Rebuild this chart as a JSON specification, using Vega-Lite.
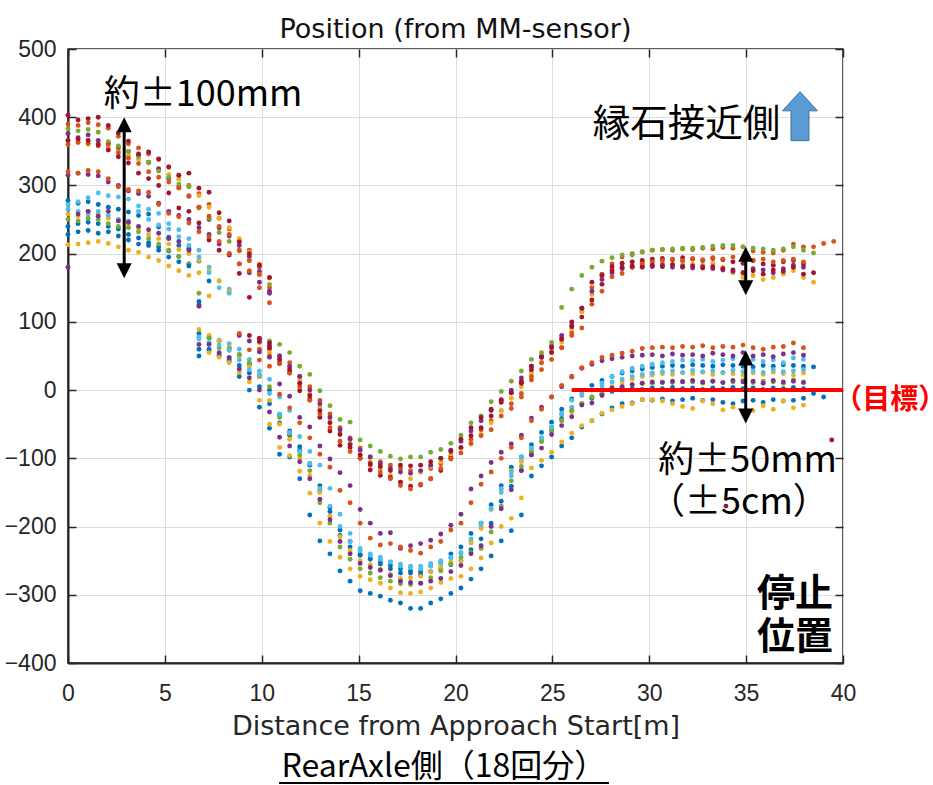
{
  "$schema": "https://vega.github.io/schema/vega-lite/v6.json",
  "width": 775,
  "height": 614,
  "autosize": "none",
  "padding": {"left": 68, "top": 49, "right": 90, "bottom": 122},
  "background": "white",
  "config": {
    "view": {"stroke": "#262626", "strokeWidth": 1.5},
    "axis": {
      "labelFont": "Liberation Sans", "labelFontSize": 23, "labelColor": "#262626",
      "titleFont": "DejaVu Sans", "titleFontSize": 27, "titleFontWeight": "normal", "titleColor": "#262626",
      "domainColor": "#262626", "domainWidth": 2, "tickColor": "#262626", "tickWidth": 1.5, "tickSize": -8,
      "gridColor": "#DEDEDE", "gridWidth": 1, "labelFlush": false
    }
  },
  "resolve": {"axis": {"x": "independent", "y": "independent"}},
  "layer": [
    {
      "data": {"values": [
{"run":1,"x":0,"y":278},{"run":1,"x":0.52,"y":274},{"run":1,"x":1.04,"y":276},{"run":1,"x":1.56,"y":272},{"run":1,"x":2.08,"y":268},{"run":1,"x":2.6,"y":265},{"run":1,"x":3.12,"y":261},{"run":1,"x":3.64,"y":256},{"run":1,"x":4.16,"y":258},{"run":1,"x":4.68,"y":239},{"run":1,"x":5.2,"y":224},{"run":1,"x":5.72,"y":212},{"run":1,"x":6.24,"y":208},{"run":1,"x":6.76,"y":189},{"run":1,"x":7.28,"y":160},
{"run":1,"x":6.76,"y":83},{"run":1,"x":7.28,"y":78},{"run":1,"x":7.8,"y":72},{"run":1,"x":8.32,"y":62},{"run":1,"x":8.84,"y":52},{"run":1,"x":9.36,"y":38},{"run":1,"x":9.88,"y":20},{"run":1,"x":10.4,"y":0},{"run":1,"x":10.92,"y":-36},{"run":1,"x":11.44,"y":-60},{"run":1,"x":11.96,"y":-83},{"run":1,"x":12.48,"y":-110},{"run":1,"x":13,"y":-140},{"run":1,"x":13.52,"y":-172},{"run":1,"x":14.04,"y":-205},{"run":1,"x":14.56,"y":-222},{"run":1,"x":15.08,"y":-241},{"run":1,"x":15.6,"y":-246},{"run":1,"x":16.12,"y":-252},{"run":1,"x":16.64,"y":-257},{"run":1,"x":17.16,"y":-262},{"run":1,"x":17.68,"y":-265},{"run":1,"x":18.2,"y":-266},{"run":1,"x":18.72,"y":-258},{"run":1,"x":19.24,"y":-252},{"run":1,"x":19.76,"y":-240},{"run":1,"x":20.28,"y":-230},{"run":1,"x":20.8,"y":-210},{"run":1,"x":21.32,"y":-195},{"run":1,"x":21.84,"y":-168},{"run":1,"x":22.36,"y":-140},{"run":1,"x":22.88,"y":-113},{"run":1,"x":23.4,"y":-98},{"run":1,"x":23.92,"y":-80},{"run":1,"x":24.44,"y":-62},{"run":1,"x":24.96,"y":-47},{"run":1,"x":25.48,"y":-28},{"run":1,"x":26,"y":-13},{"run":1,"x":26.52,"y":0},{"run":1,"x":27.04,"y":7},{"run":1,"x":27.56,"y":14},{"run":1,"x":28.08,"y":20},{"run":1,"x":28.6,"y":25},{"run":1,"x":29.12,"y":28},{"run":1,"x":29.64,"y":31},{"run":1,"x":30.16,"y":33},{"run":1,"x":30.68,"y":35},{"run":1,"x":31.2,"y":36},{"run":1,"x":31.72,"y":35},{"run":1,"x":32.24,"y":37},{"run":1,"x":32.76,"y":36},{"run":1,"x":33.28,"y":35},{"run":1,"x":33.8,"y":37},{"run":1,"x":34.32,"y":36},{"run":1,"x":34.84,"y":35},{"run":1,"x":35.36,"y":34},{"run":1,"x":35.88,"y":36},{"run":1,"x":36.4,"y":35},{"run":1,"x":36.92,"y":37},{"run":1,"x":37.44,"y":36},{"run":1,"x":37.96,"y":35},{"run":1,"x":38.48,"y":34},
{"run":2,"x":0,"y":390},{"run":2,"x":0.52,"y":388},{"run":2,"x":1.04,"y":392},{"run":2,"x":1.56,"y":389},{"run":2,"x":2.08,"y":384},{"run":2,"x":2.6,"y":372},{"run":2,"x":3.12,"y":361},{"run":2,"x":3.64,"y":355},{"run":2,"x":4.16,"y":346},{"run":2,"x":4.68,"y":338},{"run":2,"x":5.2,"y":327},{"run":2,"x":5.72,"y":314},{"run":2,"x":6.24,"y":300},{"run":2,"x":6.76,"y":288},{"run":2,"x":7.28,"y":272},{"run":2,"x":7.8,"y":252},{"run":2,"x":8.32,"y":236},{"run":2,"x":8.84,"y":220},{"run":2,"x":9.36,"y":205},{"run":2,"x":9.88,"y":180},{"run":2,"x":10.4,"y":150},
{"run":2,"x":9.88,"y":70},{"run":2,"x":10.4,"y":60},{"run":2,"x":10.92,"y":50},{"run":2,"x":11.44,"y":40},{"run":2,"x":11.96,"y":20},{"run":2,"x":12.48,"y":5},{"run":2,"x":13,"y":-15},{"run":2,"x":13.52,"y":-35},{"run":2,"x":14.04,"y":-55},{"run":2,"x":14.56,"y":-70},{"run":2,"x":15.08,"y":-85},{"run":2,"x":15.6,"y":-98},{"run":2,"x":16.12,"y":-105},{"run":2,"x":16.64,"y":-110},{"run":2,"x":17.16,"y":-115},{"run":2,"x":17.68,"y":-118},{"run":2,"x":18.2,"y":-120},{"run":2,"x":18.72,"y":-115},{"run":2,"x":19.24,"y":-108},{"run":2,"x":19.76,"y":-97},{"run":2,"x":20.28,"y":-85},{"run":2,"x":20.8,"y":-72},{"run":2,"x":21.32,"y":-58},{"run":2,"x":21.84,"y":-45},{"run":2,"x":22.36,"y":-30},{"run":2,"x":22.88,"y":-20},{"run":2,"x":23.4,"y":-5},{"run":2,"x":23.92,"y":15},{"run":2,"x":24.44,"y":30},{"run":2,"x":24.96,"y":45},{"run":2,"x":25.48,"y":62},{"run":2,"x":26,"y":84},{"run":2,"x":26.52,"y":115},{"run":2,"x":27.04,"y":150},{"run":2,"x":27.56,"y":170},{"run":2,"x":28.08,"y":185},{"run":2,"x":28.6,"y":195},{"run":2,"x":29.12,"y":200},{"run":2,"x":29.64,"y":203},{"run":2,"x":30.16,"y":205},{"run":2,"x":30.68,"y":206},{"run":2,"x":31.2,"y":205},{"run":2,"x":31.72,"y":207},{"run":2,"x":32.24,"y":206},{"run":2,"x":32.76,"y":208},{"run":2,"x":33.28,"y":207},{"run":2,"x":33.8,"y":209},{"run":2,"x":34.32,"y":208},{"run":2,"x":34.84,"y":210},{"run":2,"x":35.36,"y":204},{"run":2,"x":35.88,"y":202},{"run":2,"x":36.4,"y":201},{"run":2,"x":36.92,"y":205},{"run":2,"x":37.44,"y":214},{"run":2,"x":37.96,"y":210},{"run":2,"x":38.48,"y":210},{"run":2,"x":39,"y":215},{"run":2,"x":39.52,"y":218},
{"run":3,"x":0,"y":366},{"run":3,"x":0.52,"y":364},{"run":3,"x":1.04,"y":360},{"run":3,"x":1.56,"y":362},{"run":3,"x":2.08,"y":356},{"run":3,"x":2.6,"y":352},{"run":3,"x":3.12,"y":344},{"run":3,"x":3.64,"y":338},{"run":3,"x":4.16,"y":333},{"run":3,"x":4.68,"y":325},{"run":3,"x":5.2,"y":316},{"run":3,"x":5.72,"y":309},{"run":3,"x":6.24,"y":298},{"run":3,"x":6.76,"y":285},{"run":3,"x":7.28,"y":268},{"run":3,"x":7.8,"y":252},{"run":3,"x":8.32,"y":238},{"run":3,"x":8.84,"y":222},{"run":3,"x":9.36,"y":202},{"run":3,"x":9.88,"y":185},{"run":3,"x":10.4,"y":164},
{"run":3,"x":10.4,"y":55},{"run":3,"x":10.92,"y":45},{"run":3,"x":11.44,"y":30},{"run":3,"x":11.96,"y":15},{"run":3,"x":12.48,"y":-5},{"run":3,"x":13,"y":-25},{"run":3,"x":13.52,"y":-45},{"run":3,"x":14.04,"y":-62},{"run":3,"x":14.56,"y":-78},{"run":3,"x":15.08,"y":-95},{"run":3,"x":15.6,"y":-105},{"run":3,"x":16.12,"y":-115},{"run":3,"x":16.64,"y":-125},{"run":3,"x":17.16,"y":-135},{"run":3,"x":17.68,"y":-130},{"run":3,"x":18.2,"y":-120},{"run":3,"x":18.72,"y":-112},{"run":3,"x":19.24,"y":-105},{"run":3,"x":19.76,"y":-95},{"run":3,"x":20.28,"y":-85},{"run":3,"x":20.8,"y":-79},{"run":3,"x":21.32,"y":-65},{"run":3,"x":21.84,"y":-48},{"run":3,"x":22.36,"y":-30},{"run":3,"x":22.88,"y":-12},{"run":3,"x":23.4,"y":5},{"run":3,"x":23.92,"y":25},{"run":3,"x":24.44,"y":40},{"run":3,"x":24.96,"y":55},{"run":3,"x":25.48,"y":70},{"run":3,"x":26,"y":90},{"run":3,"x":26.52,"y":115},{"run":3,"x":27.04,"y":140},{"run":3,"x":27.56,"y":166},{"run":3,"x":28.08,"y":178},{"run":3,"x":28.6,"y":185},{"run":3,"x":29.12,"y":188},{"run":3,"x":29.64,"y":186},{"run":3,"x":30.16,"y":188},{"run":3,"x":30.68,"y":186},{"run":3,"x":31.2,"y":184},{"run":3,"x":31.72,"y":187},{"run":3,"x":32.24,"y":185},{"run":3,"x":32.76,"y":183},{"run":3,"x":33.28,"y":186},{"run":3,"x":33.8,"y":180},{"run":3,"x":34.32,"y":172},{"run":3,"x":34.84,"y":165},{"run":3,"x":35.36,"y":168},{"run":3,"x":35.88,"y":162},{"run":3,"x":36.4,"y":165},{"run":3,"x":36.92,"y":170},{"run":3,"x":37.44,"y":175},{"run":3,"x":37.96,"y":165},{"run":3,"x":38.48,"y":158},
{"run":4,"x":0,"y":376},{"run":4,"x":0.52,"y":370},{"run":4,"x":1.04,"y":374},{"run":4,"x":1.56,"y":366},{"run":4,"x":2.08,"y":362},{"run":4,"x":2.6,"y":356},{"run":4,"x":3.12,"y":350},{"run":4,"x":3.64,"y":344},{"run":4,"x":4.16,"y":334},{"run":4,"x":4.68,"y":324},{"run":4,"x":5.2,"y":310},{"run":4,"x":5.72,"y":298},{"run":4,"x":6.24,"y":284},{"run":4,"x":6.76,"y":268},{"run":4,"x":7.28,"y":250},{"run":4,"x":7.8,"y":238},{"run":4,"x":8.32,"y":226},{"run":4,"x":8.84,"y":212},{"run":4,"x":9.36,"y":196},{"run":4,"x":9.88,"y":174},{"run":4,"x":10.4,"y":145},
{"run":4,"x":10.4,"y":65},{"run":4,"x":10.92,"y":50},{"run":4,"x":11.44,"y":35},{"run":4,"x":11.96,"y":20},{"run":4,"x":12.48,"y":0},{"run":4,"x":13,"y":-20},{"run":4,"x":13.52,"y":-40},{"run":4,"x":14.04,"y":-58},{"run":4,"x":14.56,"y":-72},{"run":4,"x":15.08,"y":-88},{"run":4,"x":15.6,"y":-98},{"run":4,"x":16.12,"y":-108},{"run":4,"x":16.64,"y":-115},{"run":4,"x":17.16,"y":-120},{"run":4,"x":17.68,"y":-122},{"run":4,"x":18.2,"y":-118},{"run":4,"x":18.72,"y":-110},{"run":4,"x":19.24,"y":-100},{"run":4,"x":19.76,"y":-88},{"run":4,"x":20.28,"y":-75},{"run":4,"x":20.8,"y":-60},{"run":4,"x":21.32,"y":-45},{"run":4,"x":21.84,"y":-30},{"run":4,"x":22.36,"y":-15},{"run":4,"x":22.88,"y":0},{"run":4,"x":23.4,"y":18},{"run":4,"x":23.92,"y":35},{"run":4,"x":24.44,"y":50},{"run":4,"x":24.96,"y":65},{"run":4,"x":25.48,"y":80},{"run":4,"x":26,"y":95},{"run":4,"x":26.52,"y":120},{"run":4,"x":27.04,"y":145},{"run":4,"x":27.56,"y":162},{"run":4,"x":28.08,"y":172},{"run":4,"x":28.6,"y":178},{"run":4,"x":29.12,"y":180},{"run":4,"x":29.64,"y":182},{"run":4,"x":30.16,"y":181},{"run":4,"x":30.68,"y":183},{"run":4,"x":31.2,"y":180},{"run":4,"x":31.72,"y":182},{"run":4,"x":32.24,"y":179},{"run":4,"x":32.76,"y":181},{"run":4,"x":33.28,"y":178},{"run":4,"x":33.8,"y":176},{"run":4,"x":34.32,"y":174},{"run":4,"x":34.84,"y":172},{"run":4,"x":35.36,"y":178},{"run":4,"x":35.88,"y":176},{"run":4,"x":36.4,"y":172},{"run":4,"x":36.92,"y":178},{"run":4,"x":37.44,"y":183},{"run":4,"x":37.96,"y":180},
{"run":5,"x":0,"y":383},{"run":5,"x":0.52,"y":380},{"run":5,"x":1.04,"y":382},{"run":5,"x":1.56,"y":378},{"run":5,"x":2.08,"y":364},{"run":5,"x":2.6,"y":358},{"run":5,"x":3.12,"y":350},{"run":5,"x":3.64,"y":342},{"run":5,"x":4.16,"y":334},{"run":5,"x":4.68,"y":321},{"run":5,"x":5.2,"y":312},{"run":5,"x":5.72,"y":302},{"run":5,"x":6.24,"y":298},{"run":5,"x":6.76,"y":267},{"run":5,"x":7.28,"y":252},{"run":5,"x":7.8,"y":231},{"run":5,"x":8.32,"y":218},{"run":5,"x":8.84,"y":204},{"run":5,"x":9.36,"y":190},{"run":5,"x":9.88,"y":169},{"run":5,"x":10.4,"y":155},
{"run":5,"x":9.88,"y":75},{"run":5,"x":10.4,"y":72},{"run":5,"x":10.92,"y":67},{"run":5,"x":11.44,"y":55},{"run":5,"x":11.96,"y":35},{"run":5,"x":12.48,"y":23},{"run":5,"x":13,"y":-1},{"run":5,"x":13.52,"y":-23},{"run":5,"x":14.04,"y":-43},{"run":5,"x":14.56,"y":-47},{"run":5,"x":15.08,"y":-73},{"run":5,"x":15.6,"y":-82},{"run":5,"x":16.12,"y":-90},{"run":5,"x":16.64,"y":-97},{"run":5,"x":17.16,"y":-101},{"run":5,"x":17.68,"y":-98},{"run":5,"x":18.2,"y":-98},{"run":5,"x":18.72,"y":-91},{"run":5,"x":19.24,"y":-87},{"run":5,"x":19.76,"y":-78},{"run":5,"x":20.28,"y":-66},{"run":5,"x":20.8,"y":-48},{"run":5,"x":21.32,"y":-38},{"run":5,"x":21.84,"y":-17},{"run":5,"x":22.36,"y":-2},{"run":5,"x":22.88,"y":13},{"run":5,"x":23.4,"y":28},{"run":5,"x":23.92,"y":45},{"run":5,"x":24.44,"y":55},{"run":5,"x":24.96,"y":70},{"run":5,"x":25.48,"y":121},{"run":5,"x":26,"y":148},{"run":5,"x":26.52,"y":168},{"run":5,"x":27.04,"y":180},{"run":5,"x":27.56,"y":189},{"run":5,"x":28.08,"y":194},{"run":5,"x":28.6,"y":198},{"run":5,"x":29.12,"y":198},{"run":5,"x":29.64,"y":202},{"run":5,"x":30.16,"y":205},{"run":5,"x":30.68,"y":206},{"run":5,"x":31.2,"y":207},{"run":5,"x":31.72,"y":208},{"run":5,"x":32.24,"y":208},{"run":5,"x":32.76,"y":209},{"run":5,"x":33.28,"y":211},{"run":5,"x":33.8,"y":212},{"run":5,"x":34.32,"y":212},{"run":5,"x":34.84,"y":210},{"run":5,"x":35.36,"y":208},{"run":5,"x":35.88,"y":207},{"run":5,"x":36.4,"y":205},{"run":5,"x":36.92,"y":207},{"run":5,"x":37.44,"y":210},{"run":5,"x":37.96,"y":205},{"run":5,"x":38.48,"y":201},
{"run":6,"x":0,"y":272},{"run":6,"x":0.52,"y":276},{"run":6,"x":1.04,"y":282},{"run":6,"x":1.56,"y":289},{"run":6,"x":2.08,"y":285},{"run":6,"x":2.6,"y":283},{"run":6,"x":3.12,"y":280},{"run":6,"x":3.64,"y":270},{"run":6,"x":4.16,"y":265},{"run":6,"x":4.68,"y":259},{"run":6,"x":5.2,"y":244},{"run":6,"x":5.72,"y":235},{"run":6,"x":6.24,"y":222},{"run":6,"x":6.76,"y":205},{"run":6,"x":7.28,"y":180},{"run":6,"x":7.8,"y":160},{"run":6,"x":8.32,"y":148},
{"run":6,"x":6.76,"y":78},{"run":6,"x":7.28,"y":76},{"run":6,"x":7.8,"y":73},{"run":6,"x":8.32,"y":68},{"run":6,"x":8.84,"y":60},{"run":6,"x":9.36,"y":45},{"run":6,"x":9.88,"y":28},{"run":6,"x":10.4,"y":16},{"run":6,"x":10.92,"y":-10},{"run":6,"x":11.44,"y":-30},{"run":6,"x":11.96,"y":-68},{"run":6,"x":12.48,"y":-90},{"run":6,"x":13,"y":-110},{"run":6,"x":13.52,"y":-144},{"run":6,"x":14.04,"y":-182},{"run":6,"x":14.56,"y":-210},{"run":6,"x":15.08,"y":-232},{"run":6,"x":15.6,"y":-240},{"run":6,"x":16.12,"y":-245},{"run":6,"x":16.64,"y":-252},{"run":6,"x":17.16,"y":-258},{"run":6,"x":17.68,"y":-260},{"run":6,"x":18.2,"y":-262},{"run":6,"x":18.72,"y":-258},{"run":6,"x":19.24,"y":-255},{"run":6,"x":19.76,"y":-246},{"run":6,"x":20.28,"y":-238},{"run":6,"x":20.8,"y":-222},{"run":6,"x":21.32,"y":-200},{"run":6,"x":21.84,"y":-174},{"run":6,"x":22.36,"y":-150},{"run":6,"x":22.88,"y":-126},{"run":6,"x":23.4,"y":-104},{"run":6,"x":23.92,"y":-85},{"run":6,"x":24.44,"y":-70},{"run":6,"x":24.96,"y":-54},{"run":6,"x":25.48,"y":-36},{"run":6,"x":26,"y":-25},{"run":6,"x":26.52,"y":-8},{"run":6,"x":27.04,"y":0},{"run":6,"x":27.56,"y":10},{"run":6,"x":28.08,"y":20},{"run":6,"x":28.6,"y":27},{"run":6,"x":29.12,"y":32},{"run":6,"x":29.64,"y":35},{"run":6,"x":30.16,"y":38},{"run":6,"x":30.68,"y":40},{"run":6,"x":31.2,"y":42},{"run":6,"x":31.72,"y":44},{"run":6,"x":32.24,"y":43},{"run":6,"x":32.76,"y":45},{"run":6,"x":33.28,"y":42},{"run":6,"x":33.8,"y":44},{"run":6,"x":34.32,"y":46},{"run":6,"x":34.84,"y":43},{"run":6,"x":35.36,"y":45},{"run":6,"x":35.88,"y":42},{"run":6,"x":36.4,"y":44},{"run":6,"x":36.92,"y":40},{"run":6,"x":37.44,"y":47},{"run":6,"x":37.96,"y":45},
{"run":7,"x":0,"y":403},{"run":7,"x":0.52,"y":396},{"run":7,"x":1.04,"y":398},{"run":7,"x":1.56,"y":400},{"run":7,"x":2.08,"y":388},{"run":7,"x":2.6,"y":377},{"run":7,"x":3.12,"y":365},{"run":7,"x":3.64,"y":346},{"run":7,"x":4.16,"y":349},{"run":7,"x":4.68,"y":339},{"run":7,"x":5.2,"y":327},{"run":7,"x":5.72,"y":315},{"run":7,"x":6.24,"y":318},{"run":7,"x":6.76,"y":296},{"run":7,"x":7.28,"y":290},{"run":7,"x":7.8,"y":260},{"run":7,"x":8.32,"y":248},{"run":7,"x":8.84,"y":217},{"run":7,"x":9.36,"y":200},{"run":7,"x":9.88,"y":183},{"run":7,"x":10.4,"y":165},
{"run":7,"x":9.88,"y":76},{"run":7,"x":10.4,"y":69},{"run":7,"x":10.92,"y":39},{"run":7,"x":11.44,"y":25},{"run":7,"x":11.96,"y":-1},{"run":7,"x":12.48,"y":-13},{"run":7,"x":13,"y":-40},{"run":7,"x":13.52,"y":-60},{"run":7,"x":14.04,"y":-81},{"run":7,"x":14.56,"y":-84},{"run":7,"x":15.08,"y":-100},{"run":7,"x":15.6,"y":-117},{"run":7,"x":16.12,"y":-125},{"run":7,"x":16.64,"y":-128},{"run":7,"x":17.16,"y":-135},{"run":7,"x":17.68,"y":-141},{"run":7,"x":18.2,"y":-139},{"run":7,"x":18.72,"y":-130},{"run":7,"x":19.24,"y":-118},{"run":7,"x":19.76,"y":-100},{"run":7,"x":20.28,"y":-84},{"run":7,"x":20.8,"y":-67},{"run":7,"x":21.32,"y":-55},{"run":7,"x":21.84,"y":-38},{"run":7,"x":22.36,"y":-14},{"run":7,"x":22.88,"y":-4},{"run":7,"x":23.4,"y":10},{"run":7,"x":23.92,"y":30},{"run":7,"x":24.44,"y":48},{"run":7,"x":24.96,"y":62},{"run":7,"x":25.48,"y":75},{"run":7,"x":26,"y":93},{"run":7,"x":26.52,"y":107},{"run":7,"x":27.04,"y":132},{"run":7,"x":27.56,"y":155},{"run":7,"x":28.08,"y":181},{"run":7,"x":28.6,"y":186},{"run":7,"x":29.12,"y":188},{"run":7,"x":29.64,"y":190},{"run":7,"x":30.16,"y":192},{"run":7,"x":30.68,"y":193},{"run":7,"x":31.2,"y":191},{"run":7,"x":31.72,"y":194},{"run":7,"x":32.24,"y":192},{"run":7,"x":32.76,"y":190},{"run":7,"x":33.28,"y":193},{"run":7,"x":33.8,"y":191},{"run":7,"x":34.32,"y":188},{"run":7,"x":34.84,"y":186},{"run":7,"x":35.36,"y":190},{"run":7,"x":35.88,"y":185},{"run":7,"x":36.4,"y":183},{"run":7,"x":36.92,"y":188},{"run":7,"x":37.44,"y":190},{"run":7,"x":37.96,"y":185},{"run":7,"x":39.42,"y":-73},
{"run":8,"x":0,"y":240},{"run":8,"x":0.52,"y":244},{"run":8,"x":1.04,"y":246},{"run":8,"x":1.56,"y":244},{"run":8,"x":2.08,"y":240},{"run":8,"x":2.6,"y":236},{"run":8,"x":3.12,"y":228},{"run":8,"x":3.64,"y":223},{"run":8,"x":4.16,"y":216},{"run":8,"x":4.68,"y":210},{"run":8,"x":5.2,"y":204},{"run":8,"x":5.72,"y":196},{"run":8,"x":6.24,"y":185},{"run":8,"x":6.76,"y":130},
{"run":8,"x":6.76,"y":60},{"run":8,"x":7.28,"y":58},{"run":8,"x":7.8,"y":52},{"run":8,"x":8.32,"y":45},{"run":8,"x":8.84,"y":36},{"run":8,"x":9.36,"y":25},{"run":8,"x":9.88,"y":5},{"run":8,"x":10.4,"y":-20},{"run":8,"x":10.92,"y":-48},{"run":8,"x":11.44,"y":-66},{"run":8,"x":11.96,"y":-88},{"run":8,"x":12.48,"y":-108},{"run":8,"x":13,"y":-148},{"run":8,"x":13.52,"y":-178},{"run":8,"x":14.04,"y":-213},{"run":8,"x":14.56,"y":-230},{"run":8,"x":15.08,"y":-242},{"run":8,"x":15.6,"y":-248},{"run":8,"x":16.12,"y":-255},{"run":8,"x":16.64,"y":-262},{"run":8,"x":17.16,"y":-268},{"run":8,"x":17.68,"y":-268},{"run":8,"x":18.2,"y":-270},{"run":8,"x":18.72,"y":-266},{"run":8,"x":19.24,"y":-262},{"run":8,"x":19.76,"y":-256},{"run":8,"x":20.28,"y":-250},{"run":8,"x":20.8,"y":-234},{"run":8,"x":21.32,"y":-218},{"run":8,"x":21.84,"y":-195},{"run":8,"x":22.36,"y":-163},{"run":8,"x":22.88,"y":-141},{"run":8,"x":23.4,"y":-118},{"run":8,"x":23.92,"y":-95},{"run":8,"x":24.44,"y":-75},{"run":8,"x":24.96,"y":-58},{"run":8,"x":25.48,"y":-42},{"run":8,"x":26,"y":-30},{"run":8,"x":26.52,"y":-20},{"run":8,"x":27.04,"y":-12},{"run":8,"x":27.56,"y":-6},{"run":8,"x":28.08,"y":-2},{"run":8,"x":28.6,"y":0},{"run":8,"x":29.12,"y":2},{"run":8,"x":29.64,"y":1},{"run":8,"x":30.16,"y":3},{"run":8,"x":30.68,"y":2},{"run":8,"x":31.2,"y":4},{"run":8,"x":31.72,"y":2},{"run":8,"x":32.24,"y":3},{"run":8,"x":32.76,"y":1},{"run":8,"x":33.28,"y":3},{"run":8,"x":33.8,"y":2},{"run":8,"x":34.32,"y":4},{"run":8,"x":34.84,"y":2},{"run":8,"x":35.36,"y":3},{"run":8,"x":35.88,"y":1},{"run":8,"x":36.4,"y":3},{"run":8,"x":36.92,"y":2},{"run":8,"x":37.44,"y":4},{"run":8,"x":37.96,"y":2},{"run":8,"x":38.48,"y":-5},{"run":8,"x":39,"y":-10},
{"run":9,"x":0,"y":360},{"run":9,"x":0.52,"y":363},{"run":9,"x":1.04,"y":362},{"run":9,"x":1.56,"y":358},{"run":9,"x":2.08,"y":360},{"run":9,"x":2.6,"y":348},{"run":9,"x":3.12,"y":340},{"run":9,"x":3.64,"y":332},{"run":9,"x":4.16,"y":320},{"run":9,"x":4.68,"y":312},{"run":9,"x":5.2,"y":305},{"run":9,"x":5.72,"y":296},{"run":9,"x":6.24,"y":285},{"run":9,"x":6.76,"y":268},{"run":9,"x":7.28,"y":255},{"run":9,"x":7.8,"y":240},{"run":9,"x":8.32,"y":228},{"run":9,"x":8.84,"y":205},{"run":9,"x":9.36,"y":190},{"run":9,"x":9.88,"y":170},{"run":9,"x":10.4,"y":128},
{"run":9,"x":9.88,"y":60},{"run":9,"x":10.4,"y":50},{"run":9,"x":10.92,"y":40},{"run":9,"x":11.44,"y":25},{"run":9,"x":11.96,"y":5},{"run":9,"x":12.48,"y":-15},{"run":9,"x":13,"y":-35},{"run":9,"x":13.52,"y":-55},{"run":9,"x":14.04,"y":-75},{"run":9,"x":14.56,"y":-90},{"run":9,"x":15.08,"y":-100},{"run":9,"x":15.6,"y":-110},{"run":9,"x":16.12,"y":-120},{"run":9,"x":16.64,"y":-130},{"run":9,"x":17.16,"y":-140},{"run":9,"x":17.68,"y":-145},{"run":9,"x":18.2,"y":-138},{"run":9,"x":18.72,"y":-130},{"run":9,"x":19.24,"y":-115},{"run":9,"x":19.76,"y":-101},{"run":9,"x":20.28,"y":-92},{"run":9,"x":20.8,"y":-78},{"run":9,"x":21.32,"y":-67},{"run":9,"x":21.84,"y":-58},{"run":9,"x":22.36,"y":-38},{"run":9,"x":22.88,"y":-27},{"run":9,"x":23.4,"y":-10},{"run":9,"x":23.92,"y":20},{"run":9,"x":24.44,"y":40},{"run":9,"x":24.96,"y":56},{"run":9,"x":25.48,"y":62},{"run":9,"x":26,"y":80},{"run":9,"x":26.52,"y":91},{"run":9,"x":27.04,"y":126},{"run":9,"x":27.56,"y":145},{"run":9,"x":28.08,"y":166},{"run":9,"x":28.6,"y":171},{"run":9,"x":29.12,"y":180},{"run":9,"x":29.64,"y":185},{"run":9,"x":30.16,"y":188},{"run":9,"x":30.68,"y":190},{"run":9,"x":31.2,"y":192},{"run":9,"x":31.72,"y":190},{"run":9,"x":32.24,"y":193},{"run":9,"x":32.76,"y":191},{"run":9,"x":33.28,"y":194},{"run":9,"x":33.8,"y":192},{"run":9,"x":34.32,"y":195},{"run":9,"x":34.84,"y":193},{"run":9,"x":35.36,"y":190},{"run":9,"x":35.88,"y":192},{"run":9,"x":36.4,"y":188},{"run":9,"x":36.92,"y":190},{"run":9,"x":37.44,"y":192},{"run":9,"x":37.96,"y":188},
{"run":10,"x":0,"y":258},{"run":10,"x":0.52,"y":255},{"run":10,"x":1.04,"y":262},{"run":10,"x":1.56,"y":258},{"run":10,"x":2.08,"y":252},{"run":10,"x":2.6,"y":248},{"run":10,"x":3.12,"y":244},{"run":10,"x":3.64,"y":236},{"run":10,"x":4.16,"y":228},{"run":10,"x":4.68,"y":222},{"run":10,"x":5.2,"y":214},{"run":10,"x":5.72,"y":206},{"run":10,"x":6.24,"y":200},{"run":10,"x":6.76,"y":190},{"run":10,"x":7.28,"y":175},{"run":10,"x":7.8,"y":160},{"run":10,"x":8.32,"y":145},
{"run":10,"x":6.76,"y":89},{"run":10,"x":7.28,"y":80},{"run":10,"x":7.8,"y":72},{"run":10,"x":8.32,"y":62},{"run":10,"x":8.84,"y":50},{"run":10,"x":9.36,"y":35},{"run":10,"x":9.88,"y":20},{"run":10,"x":10.4,"y":-15},{"run":10,"x":10.92,"y":-50},{"run":10,"x":11.44,"y":-72},{"run":10,"x":11.96,"y":-100},{"run":10,"x":12.48,"y":-125},{"run":10,"x":13,"y":-150},{"run":10,"x":13.52,"y":-185},{"run":10,"x":14.04,"y":-215},{"run":10,"x":14.56,"y":-235},{"run":10,"x":15.08,"y":-250},{"run":10,"x":15.6,"y":-256},{"run":10,"x":16.12,"y":-262},{"run":10,"x":16.64,"y":-270},{"run":10,"x":17.16,"y":-276},{"run":10,"x":17.68,"y":-275},{"run":10,"x":18.2,"y":-273},{"run":10,"x":18.72,"y":-266},{"run":10,"x":19.24,"y":-260},{"run":10,"x":19.76,"y":-252},{"run":10,"x":20.28,"y":-250},{"run":10,"x":20.8,"y":-224},{"run":10,"x":21.32,"y":-203},{"run":10,"x":21.84,"y":-175},{"run":10,"x":22.36,"y":-145},{"run":10,"x":22.88,"y":-118},{"run":10,"x":23.4,"y":-105},{"run":10,"x":23.92,"y":-90},{"run":10,"x":24.44,"y":-75},{"run":10,"x":24.96,"y":-60},{"run":10,"x":25.48,"y":-45},{"run":10,"x":26,"y":-32},{"run":10,"x":26.52,"y":-20},{"run":10,"x":27.04,"y":-10},{"run":10,"x":27.56,"y":-2},{"run":10,"x":28.08,"y":5},{"run":10,"x":28.6,"y":12},{"run":10,"x":29.12,"y":16},{"run":10,"x":29.64,"y":20},{"run":10,"x":30.16,"y":22},{"run":10,"x":30.68,"y":24},{"run":10,"x":31.2,"y":23},{"run":10,"x":31.72,"y":25},{"run":10,"x":32.24,"y":24},{"run":10,"x":32.76,"y":26},{"run":10,"x":33.28,"y":23},{"run":10,"x":33.8,"y":25},{"run":10,"x":34.32,"y":24},{"run":10,"x":34.84,"y":22},{"run":10,"x":35.36,"y":25},{"run":10,"x":35.88,"y":23},{"run":10,"x":36.4,"y":26},{"run":10,"x":36.92,"y":24},{"run":10,"x":37.44,"y":22},{"run":10,"x":37.96,"y":25},
{"run":11,"x":0,"y":315},{"run":11,"x":0.52,"y":318},{"run":11,"x":1.04,"y":316},{"run":11,"x":1.56,"y":314},{"run":11,"x":2.08,"y":305},{"run":11,"x":2.6,"y":300},{"run":11,"x":3.12,"y":292},{"run":11,"x":3.64,"y":288},{"run":11,"x":4.16,"y":284},{"run":11,"x":4.68,"y":274},{"run":11,"x":5.2,"y":262},{"run":11,"x":5.72,"y":256},{"run":11,"x":6.24,"y":250},{"run":11,"x":6.76,"y":238},{"run":11,"x":7.28,"y":228},{"run":11,"x":7.8,"y":214},{"run":11,"x":8.32,"y":200},{"run":11,"x":8.84,"y":185},{"run":11,"x":9.36,"y":172},{"run":11,"x":9.88,"y":158},{"run":11,"x":10.4,"y":142},
{"run":11,"x":8.84,"y":80},{"run":11,"x":9.36,"y":72},{"run":11,"x":9.88,"y":56},{"run":11,"x":10.4,"y":48},{"run":11,"x":10.92,"y":9},{"run":11,"x":11.44,"y":-9},{"run":11,"x":11.96,"y":-40},{"run":11,"x":12.48,"y":-54},{"run":11,"x":13,"y":-82},{"run":11,"x":13.52,"y":-101},{"run":11,"x":14.04,"y":-121},{"run":11,"x":14.56,"y":-140},{"run":11,"x":15.08,"y":-175},{"run":11,"x":15.6,"y":-195},{"run":11,"x":16.12,"y":-210},{"run":11,"x":16.64,"y":-209},{"run":11,"x":17.16,"y":-232},{"run":11,"x":17.68,"y":-228},{"run":11,"x":18.2,"y":-225},{"run":11,"x":18.72,"y":-220},{"run":11,"x":19.24,"y":-211},{"run":11,"x":19.76,"y":-198},{"run":11,"x":20.28,"y":-182},{"run":11,"x":20.8,"y":-145},{"run":11,"x":21.32,"y":-126},{"run":11,"x":21.84,"y":-106},{"run":11,"x":22.36,"y":-91},{"run":11,"x":22.88,"y":-79},{"run":11,"x":23.4,"y":-66},{"run":11,"x":23.92,"y":-41},{"run":11,"x":24.44,"y":-25},{"run":11,"x":24.96,"y":-10},{"run":11,"x":25.48,"y":5},{"run":11,"x":26,"y":20},{"run":11,"x":26.52,"y":32},{"run":11,"x":27.04,"y":38},{"run":11,"x":27.56,"y":43},{"run":11,"x":28.08,"y":46},{"run":11,"x":28.6,"y":48},{"run":11,"x":29.12,"y":50},{"run":11,"x":29.64,"y":51},{"run":11,"x":30.16,"y":52},{"run":11,"x":30.68,"y":50},{"run":11,"x":31.2,"y":53},{"run":11,"x":31.72,"y":51},{"run":11,"x":32.24,"y":52},{"run":11,"x":32.76,"y":50},{"run":11,"x":33.28,"y":54},{"run":11,"x":33.8,"y":52},{"run":11,"x":34.32,"y":50},{"run":11,"x":34.84,"y":55},{"run":11,"x":35.36,"y":50},{"run":11,"x":35.88,"y":52},{"run":11,"x":36.4,"y":49},{"run":11,"x":36.92,"y":53},{"run":11,"x":37.44,"y":55},{"run":11,"x":37.96,"y":51},
{"run":12,"x":0,"y":250},{"run":12,"x":0.52,"y":248},{"run":12,"x":1.04,"y":252},{"run":12,"x":1.56,"y":250},{"run":12,"x":2.08,"y":244},{"run":12,"x":2.6,"y":240},{"run":12,"x":3.12,"y":238},{"run":12,"x":3.64,"y":232},{"run":12,"x":4.16,"y":222},{"run":12,"x":4.68,"y":214},{"run":12,"x":5.2,"y":205},{"run":12,"x":5.72,"y":196},{"run":12,"x":6.24,"y":185},{"run":12,"x":6.76,"y":142},
{"run":12,"x":7.28,"y":76},{"run":12,"x":7.8,"y":62},{"run":12,"x":8.32,"y":60},{"run":12,"x":8.84,"y":52},{"run":12,"x":9.36,"y":40},{"run":12,"x":9.88,"y":22},{"run":12,"x":10.4,"y":5},{"run":12,"x":10.92,"y":-40},{"run":12,"x":11.44,"y":-64},{"run":12,"x":11.96,"y":-95},{"run":12,"x":12.48,"y":-118},{"run":12,"x":13,"y":-165},{"run":12,"x":13.52,"y":-195},{"run":12,"x":14.04,"y":-230},{"run":12,"x":14.56,"y":-248},{"run":12,"x":15.08,"y":-262},{"run":12,"x":15.6,"y":-268},{"run":12,"x":16.12,"y":-275},{"run":12,"x":16.64,"y":-280},{"run":12,"x":17.16,"y":-284},{"run":12,"x":17.68,"y":-285},{"run":12,"x":18.2,"y":-283},{"run":12,"x":18.72,"y":-275},{"run":12,"x":19.24,"y":-265},{"run":12,"x":19.76,"y":-255},{"run":12,"x":20.28,"y":-245},{"run":12,"x":20.8,"y":-238},{"run":12,"x":21.32,"y":-232},{"run":12,"x":21.84,"y":-208},{"run":12,"x":22.36,"y":-170},{"run":12,"x":22.88,"y":-133},{"run":12,"x":23.4,"y":-112},{"run":12,"x":23.92,"y":-90},{"run":12,"x":24.44,"y":-75},{"run":12,"x":24.96,"y":-60},{"run":12,"x":25.48,"y":-45},{"run":12,"x":26,"y":-30},{"run":12,"x":26.52,"y":-20},{"run":12,"x":27.04,"y":-10},{"run":12,"x":27.56,"y":-5},{"run":12,"x":28.08,"y":0},{"run":12,"x":28.6,"y":5},{"run":12,"x":29.12,"y":8},{"run":12,"x":29.64,"y":10},{"run":12,"x":30.16,"y":10},{"run":12,"x":30.68,"y":12},{"run":12,"x":31.2,"y":11},{"run":12,"x":31.72,"y":13},{"run":12,"x":32.24,"y":12},{"run":12,"x":32.76,"y":10},{"run":12,"x":33.28,"y":13},{"run":12,"x":33.8,"y":11},{"run":12,"x":34.32,"y":12},{"run":12,"x":34.84,"y":14},{"run":12,"x":35.36,"y":11},{"run":12,"x":35.88,"y":13},{"run":12,"x":36.4,"y":12},{"run":12,"x":36.92,"y":10},{"run":12,"x":37.44,"y":15},{"run":12,"x":37.96,"y":12},
{"run":13,"x":0,"y":265},{"run":13,"x":0.52,"y":262},{"run":13,"x":1.04,"y":258},{"run":13,"x":1.56,"y":262},{"run":13,"x":2.08,"y":256},{"run":13,"x":2.6,"y":250},{"run":13,"x":3.12,"y":248},{"run":13,"x":3.64,"y":262},{"run":13,"x":4.16,"y":250},{"run":13,"x":4.68,"y":242},{"run":13,"x":5.2,"y":236},{"run":13,"x":5.72,"y":225},{"run":13,"x":6.24,"y":212},{"run":13,"x":6.76,"y":195},{"run":13,"x":7.28,"y":172},{"run":13,"x":7.8,"y":150},{"run":13,"x":8.32,"y":142},
{"run":13,"x":6.76,"y":75},{"run":13,"x":7.28,"y":70},{"run":13,"x":7.8,"y":66},{"run":13,"x":8.32,"y":58},{"run":13,"x":8.84,"y":44},{"run":13,"x":9.36,"y":30},{"run":13,"x":9.88,"y":22},{"run":13,"x":10.4,"y":-5},{"run":13,"x":10.92,"y":-35},{"run":13,"x":11.44,"y":-62},{"run":13,"x":11.96,"y":-90},{"run":13,"x":12.48,"y":-108},{"run":13,"x":13,"y":-144},{"run":13,"x":13.52,"y":-170},{"run":13,"x":14.04,"y":-200},{"run":13,"x":14.56,"y":-222},{"run":13,"x":15.08,"y":-235},{"run":13,"x":15.6,"y":-242},{"run":13,"x":16.12,"y":-248},{"run":13,"x":16.64,"y":-252},{"run":13,"x":17.16,"y":-255},{"run":13,"x":17.68,"y":-258},{"run":13,"x":18.2,"y":-258},{"run":13,"x":18.72,"y":-254},{"run":13,"x":19.24,"y":-250},{"run":13,"x":19.76,"y":-245},{"run":13,"x":20.28,"y":-240},{"run":13,"x":20.8,"y":-218},{"run":13,"x":21.32,"y":-195},{"run":13,"x":21.84,"y":-174},{"run":13,"x":22.36,"y":-145},{"run":13,"x":22.88,"y":-120},{"run":13,"x":23.4,"y":-98},{"run":13,"x":23.92,"y":-85},{"run":13,"x":24.44,"y":-70},{"run":13,"x":24.96,"y":-54},{"run":13,"x":25.48,"y":-34},{"run":13,"x":26,"y":-15},{"run":13,"x":26.52,"y":-5},{"run":13,"x":27.04,"y":0},{"run":13,"x":27.56,"y":6},{"run":13,"x":28.08,"y":12},{"run":13,"x":28.6,"y":16},{"run":13,"x":29.12,"y":20},{"run":13,"x":29.64,"y":23},{"run":13,"x":30.16,"y":25},{"run":13,"x":30.68,"y":27},{"run":13,"x":31.2,"y":28},{"run":13,"x":31.72,"y":26},{"run":13,"x":32.24,"y":29},{"run":13,"x":32.76,"y":27},{"run":13,"x":33.28,"y":28},{"run":13,"x":33.8,"y":26},{"run":13,"x":34.32,"y":29},{"run":13,"x":34.84,"y":27},{"run":13,"x":35.36,"y":28},{"run":13,"x":35.88,"y":26},{"run":13,"x":36.4,"y":30},{"run":13,"x":36.92,"y":27},{"run":13,"x":37.44,"y":28},{"run":13,"x":37.96,"y":30},
{"run":14,"x":0,"y":366},{"run":14,"x":0.52,"y":368},{"run":14,"x":1.04,"y":366},{"run":14,"x":1.56,"y":360},{"run":14,"x":2.08,"y":352},{"run":14,"x":2.6,"y":342},{"run":14,"x":3.12,"y":333},{"run":14,"x":3.64,"y":318},{"run":14,"x":4.16,"y":310},{"run":14,"x":4.68,"y":300},{"run":14,"x":5.2,"y":289},{"run":14,"x":5.72,"y":267},{"run":14,"x":6.24,"y":262},{"run":14,"x":6.76,"y":245},{"run":14,"x":7.28,"y":220},{"run":14,"x":7.8,"y":205},{"run":14,"x":8.32,"y":198},{"run":14,"x":8.84,"y":171},{"run":14,"x":9.36,"y":136},
{"run":14,"x":9.36,"y":80},{"run":14,"x":9.88,"y":72},{"run":14,"x":10.4,"y":62},{"run":14,"x":10.92,"y":45},{"run":14,"x":11.44,"y":30},{"run":14,"x":11.96,"y":10},{"run":14,"x":12.48,"y":-8},{"run":14,"x":13,"y":-30},{"run":14,"x":13.52,"y":-48},{"run":14,"x":14.04,"y":-65},{"run":14,"x":14.56,"y":-80},{"run":14,"x":15.08,"y":-95},{"run":14,"x":15.6,"y":-108},{"run":14,"x":16.12,"y":-112},{"run":14,"x":16.64,"y":-118},{"run":14,"x":17.16,"y":-110},{"run":14,"x":17.68,"y":-111},{"run":14,"x":18.2,"y":-110},{"run":14,"x":18.72,"y":-105},{"run":14,"x":19.24,"y":-100},{"run":14,"x":19.76,"y":-90},{"run":14,"x":20.28,"y":-72},{"run":14,"x":20.8,"y":-55},{"run":14,"x":21.32,"y":-40},{"run":14,"x":21.84,"y":-28},{"run":14,"x":22.36,"y":-18},{"run":14,"x":22.88,"y":-4},{"run":14,"x":23.4,"y":13},{"run":14,"x":23.92,"y":35},{"run":14,"x":24.44,"y":48},{"run":14,"x":24.96,"y":55},{"run":14,"x":25.48,"y":75},{"run":14,"x":26,"y":100},{"run":14,"x":26.52,"y":120},{"run":14,"x":27.04,"y":158},{"run":14,"x":27.56,"y":168},{"run":14,"x":28.08,"y":175},{"run":14,"x":28.6,"y":180},{"run":14,"x":29.12,"y":182},{"run":14,"x":29.64,"y":180},{"run":14,"x":30.16,"y":183},{"run":14,"x":30.68,"y":181},{"run":14,"x":31.2,"y":184},{"run":14,"x":31.72,"y":180},{"run":14,"x":32.24,"y":182},{"run":14,"x":32.76,"y":179},{"run":14,"x":33.28,"y":181},{"run":14,"x":33.8,"y":178},{"run":14,"x":34.32,"y":176},{"run":14,"x":34.84,"y":172},{"run":14,"x":35.36,"y":175},{"run":14,"x":35.88,"y":170},{"run":14,"x":36.4,"y":176},{"run":14,"x":36.92,"y":174},{"run":14,"x":37.44,"y":180},{"run":14,"x":37.96,"y":170},{"run":14,"x":38.48,"y":172},{"run":14,"x":33.96,"y":-170},
{"run":15,"x":0,"y":228},{"run":15,"x":0.52,"y":232},{"run":15,"x":1.04,"y":234},{"run":15,"x":1.56,"y":230},{"run":15,"x":2.08,"y":232},{"run":15,"x":2.6,"y":226},{"run":15,"x":3.12,"y":220},{"run":15,"x":3.64,"y":214},{"run":15,"x":4.16,"y":212},{"run":15,"x":4.68,"y":205},{"run":15,"x":5.2,"y":195},{"run":15,"x":5.72,"y":188},{"run":15,"x":6.24,"y":182},{"run":15,"x":6.76,"y":125},
{"run":15,"x":6.76,"y":50},{"run":15,"x":7.28,"y":60},{"run":15,"x":7.8,"y":50},{"run":15,"x":8.32,"y":42},{"run":15,"x":8.84,"y":20},{"run":15,"x":9.36,"y":0},{"run":15,"x":9.88,"y":-25},{"run":15,"x":10.4,"y":-56},{"run":15,"x":10.92,"y":-94},{"run":15,"x":11.44,"y":-98},{"run":15,"x":11.96,"y":-130},{"run":15,"x":12.48,"y":-183},{"run":15,"x":13,"y":-221},{"run":15,"x":13.52,"y":-240},{"run":15,"x":14.04,"y":-265},{"run":15,"x":14.56,"y":-280},{"run":15,"x":15.08,"y":-294},{"run":15,"x":15.6,"y":-298},{"run":15,"x":16.12,"y":-302},{"run":15,"x":16.64,"y":-308},{"run":15,"x":17.16,"y":-312},{"run":15,"x":17.68,"y":-320},{"run":15,"x":18.2,"y":-320},{"run":15,"x":18.72,"y":-312},{"run":15,"x":19.24,"y":-306},{"run":15,"x":19.76,"y":-298},{"run":15,"x":20.28,"y":-290},{"run":15,"x":20.8,"y":-277},{"run":15,"x":21.32,"y":-262},{"run":15,"x":21.84,"y":-243},{"run":15,"x":22.36,"y":-221},{"run":15,"x":22.88,"y":-206},{"run":15,"x":23.4,"y":-183},{"run":15,"x":23.92,"y":-126},{"run":15,"x":24.44,"y":-111},{"run":15,"x":24.96,"y":-98},{"run":15,"x":25.48,"y":-82},{"run":15,"x":26,"y":-70},{"run":15,"x":26.52,"y":-54},{"run":15,"x":27.04,"y":-45},{"run":15,"x":27.56,"y":-35},{"run":15,"x":28.08,"y":-26},{"run":15,"x":28.6,"y":-20},{"run":15,"x":29.12,"y":-19},{"run":15,"x":29.64,"y":-14},{"run":15,"x":30.16,"y":-15},{"run":15,"x":30.68,"y":-13},{"run":15,"x":31.2,"y":-16},{"run":15,"x":31.72,"y":-14},{"run":15,"x":32.24,"y":-12},{"run":15,"x":32.76,"y":-15},{"run":15,"x":33.28,"y":-14},{"run":15,"x":33.8,"y":-18},{"run":15,"x":34.32,"y":-20},{"run":15,"x":34.84,"y":-16},{"run":15,"x":35.36,"y":-15},{"run":15,"x":35.88,"y":-18},{"run":15,"x":36.4,"y":-14},{"run":15,"x":36.92,"y":-16},{"run":15,"x":37.44,"y":-15},{"run":15,"x":37.96,"y":-12},
{"run":16,"x":0,"y":320},{"run":16,"x":0.52,"y":318},{"run":16,"x":1.04,"y":322},{"run":16,"x":1.56,"y":320},{"run":16,"x":2.08,"y":310},{"run":16,"x":2.6,"y":298},{"run":16,"x":3.12,"y":294},{"run":16,"x":3.64,"y":292},{"run":16,"x":4.16,"y":290},{"run":16,"x":4.68,"y":272},{"run":16,"x":5.2,"y":259},{"run":16,"x":5.72,"y":254},{"run":16,"x":6.24,"y":245},{"run":16,"x":6.76,"y":232},{"run":16,"x":7.28,"y":225},{"run":16,"x":7.8,"y":218},{"run":16,"x":8.32,"y":200},{"run":16,"x":8.84,"y":185},{"run":16,"x":9.36,"y":175},{"run":16,"x":9.88,"y":150},
{"run":16,"x":8.84,"y":83},{"run":16,"x":9.36,"y":59},{"run":16,"x":9.88,"y":44},{"run":16,"x":10.4,"y":35},{"run":16,"x":10.92,"y":-6},{"run":16,"x":11.44,"y":-26},{"run":16,"x":11.96,"y":-48},{"run":16,"x":12.48,"y":-70},{"run":16,"x":13,"y":-94},{"run":16,"x":13.52,"y":-113},{"run":16,"x":14.04,"y":-147},{"run":16,"x":14.56,"y":-165},{"run":16,"x":15.08,"y":-195},{"run":16,"x":15.6,"y":-217},{"run":16,"x":16.12,"y":-227},{"run":16,"x":16.64,"y":-225},{"run":16,"x":17.16,"y":-230},{"run":16,"x":17.68,"y":-235},{"run":16,"x":18.2,"y":-239},{"run":16,"x":18.72,"y":-230},{"run":16,"x":19.24,"y":-222},{"run":16,"x":19.76,"y":-205},{"run":16,"x":20.28,"y":-195},{"run":16,"x":20.8,"y":-165},{"run":16,"x":21.32,"y":-138},{"run":16,"x":21.84,"y":-120},{"run":16,"x":22.36,"y":-100},{"run":16,"x":22.88,"y":-84},{"run":16,"x":23.4,"y":-70},{"run":16,"x":23.92,"y":-45},{"run":16,"x":24.44,"y":-28},{"run":16,"x":24.96,"y":-10},{"run":16,"x":25.48,"y":7},{"run":16,"x":26,"y":19},{"run":16,"x":26.52,"y":33},{"run":16,"x":27.04,"y":40},{"run":16,"x":27.56,"y":48},{"run":16,"x":28.08,"y":51},{"run":16,"x":28.6,"y":54},{"run":16,"x":29.12,"y":57},{"run":16,"x":29.64,"y":61},{"run":16,"x":30.16,"y":62},{"run":16,"x":30.68,"y":63},{"run":16,"x":31.2,"y":62},{"run":16,"x":31.72,"y":64},{"run":16,"x":32.24,"y":63},{"run":16,"x":32.76,"y":65},{"run":16,"x":33.28,"y":62},{"run":16,"x":33.8,"y":64},{"run":16,"x":34.32,"y":63},{"run":16,"x":34.84,"y":66},{"run":16,"x":35.36,"y":62},{"run":16,"x":35.88,"y":60},{"run":16,"x":36.4,"y":63},{"run":16,"x":36.92,"y":64},{"run":16,"x":37.44,"y":69},{"run":16,"x":37.96,"y":62},
{"run":17,"x":0,"y":213},{"run":17,"x":0.52,"y":214},{"run":17,"x":1.04,"y":216},{"run":17,"x":1.56,"y":218},{"run":17,"x":2.08,"y":215},{"run":17,"x":2.6,"y":210},{"run":17,"x":3.12,"y":205},{"run":17,"x":3.64,"y":202},{"run":17,"x":4.16,"y":195},{"run":17,"x":4.68,"y":190},{"run":17,"x":5.2,"y":182},{"run":17,"x":5.72,"y":175},{"run":17,"x":6.24,"y":168},{"run":17,"x":6.76,"y":172},{"run":17,"x":7.28,"y":138},
{"run":17,"x":7.28,"y":55},{"run":17,"x":7.8,"y":48},{"run":17,"x":8.32,"y":40},{"run":17,"x":8.84,"y":26},{"run":17,"x":9.36,"y":12},{"run":17,"x":9.88,"y":-15},{"run":17,"x":10.4,"y":-50},{"run":17,"x":10.92,"y":-84},{"run":17,"x":11.44,"y":-96},{"run":17,"x":11.96,"y":-119},{"run":17,"x":12.48,"y":-151},{"run":17,"x":13,"y":-195},{"run":17,"x":13.52,"y":-222},{"run":17,"x":14.04,"y":-245},{"run":17,"x":14.56,"y":-262},{"run":17,"x":15.08,"y":-273},{"run":17,"x":15.6,"y":-278},{"run":17,"x":16.12,"y":-283},{"run":17,"x":16.64,"y":-290},{"run":17,"x":17.16,"y":-297},{"run":17,"x":17.68,"y":-298},{"run":17,"x":18.2,"y":-296},{"run":17,"x":18.72,"y":-290},{"run":17,"x":19.24,"y":-282},{"run":17,"x":19.76,"y":-276},{"run":17,"x":20.28,"y":-273},{"run":17,"x":20.8,"y":-262},{"run":17,"x":21.32,"y":-246},{"run":17,"x":21.84,"y":-224},{"run":17,"x":22.36,"y":-200},{"run":17,"x":22.88,"y":-188},{"run":17,"x":23.4,"y":-158},{"run":17,"x":23.92,"y":-114},{"run":17,"x":24.44,"y":-103},{"run":17,"x":24.96,"y":-91},{"run":17,"x":25.48,"y":-76},{"run":17,"x":26,"y":-63},{"run":17,"x":26.52,"y":-52},{"run":17,"x":27.04,"y":-45},{"run":17,"x":27.56,"y":-34},{"run":17,"x":28.08,"y":-29},{"run":17,"x":28.6,"y":-24},{"run":17,"x":29.12,"y":-20},{"run":17,"x":29.64,"y":-14},{"run":17,"x":30.16,"y":-14},{"run":17,"x":30.68,"y":-16},{"run":17,"x":31.2,"y":-20},{"run":17,"x":31.72,"y":-24},{"run":17,"x":32.24,"y":-27},{"run":17,"x":32.76,"y":-16},{"run":17,"x":33.28,"y":-20},{"run":17,"x":33.8,"y":-29},{"run":17,"x":34.32,"y":-25},{"run":17,"x":34.84,"y":-32},{"run":17,"x":35.36,"y":-30},{"run":17,"x":35.88,"y":-23},{"run":17,"x":36.4,"y":-28},{"run":17,"x":36.92,"y":-16},{"run":17,"x":37.44,"y":-26},{"run":17,"x":37.96,"y":-22},
{"run":18,"x":0,"y":180},{"run":18,"x":0.52,"y":258},{"run":18,"x":1.04,"y":262},{"run":18,"x":1.56,"y":255},{"run":18,"x":2.08,"y":262},{"run":18,"x":2.6,"y":248},{"run":18,"x":3.12,"y":246},{"run":18,"x":3.64,"y":240},{"run":18,"x":4.16,"y":235},{"run":18,"x":4.68,"y":230},{"run":18,"x":5.2,"y":222},{"run":18,"x":5.72,"y":218},{"run":18,"x":6.24,"y":205},{"run":18,"x":6.76,"y":123},
{"run":18,"x":6.76,"y":67},{"run":18,"x":7.28,"y":67},{"run":18,"x":7.8,"y":55},{"run":18,"x":8.32,"y":48},{"run":18,"x":8.84,"y":31},{"run":18,"x":9.36,"y":18},{"run":18,"x":9.88,"y":0},{"run":18,"x":10.4,"y":-32},{"run":18,"x":10.92,"y":-69},{"run":18,"x":11.44,"y":-82},{"run":18,"x":11.96,"y":-105},{"run":18,"x":12.48,"y":-130},{"run":18,"x":13,"y":-160},{"run":18,"x":13.52,"y":-190},{"run":18,"x":14.04,"y":-222},{"run":18,"x":14.56,"y":-240},{"run":18,"x":15.08,"y":-254},{"run":18,"x":15.6,"y":-260},{"run":18,"x":16.12,"y":-264},{"run":18,"x":16.64,"y":-272},{"run":18,"x":17.16,"y":-280},{"run":18,"x":17.68,"y":-282},{"run":18,"x":18.2,"y":-283},{"run":18,"x":18.72,"y":-280},{"run":18,"x":19.24,"y":-276},{"run":18,"x":19.76,"y":-266},{"run":18,"x":20.28,"y":-257},{"run":18,"x":20.8,"y":-240},{"run":18,"x":21.32,"y":-228},{"run":18,"x":21.84,"y":-200},{"run":18,"x":22.36,"y":-174},{"run":18,"x":22.88,"y":-146},{"run":18,"x":23.4,"y":-118},{"run":18,"x":23.92,"y":-95},{"run":18,"x":24.44,"y":-85},{"run":18,"x":24.96,"y":-65},{"run":18,"x":25.48,"y":-52},{"run":18,"x":26,"y":-39},{"run":18,"x":26.52,"y":-22},{"run":18,"x":27.04,"y":-19},{"run":18,"x":27.56,"y":-8},{"run":18,"x":28.08,"y":3},{"run":18,"x":28.6,"y":5},{"run":18,"x":29.12,"y":8},{"run":18,"x":29.64,"y":10},{"run":18,"x":30.16,"y":12},{"run":18,"x":30.68,"y":11},{"run":18,"x":31.2,"y":13},{"run":18,"x":31.72,"y":12},{"run":18,"x":32.24,"y":14},{"run":18,"x":32.76,"y":12},{"run":18,"x":33.28,"y":13},{"run":18,"x":33.8,"y":11},{"run":18,"x":34.32,"y":14},{"run":18,"x":34.84,"y":12},{"run":18,"x":35.36,"y":13},{"run":18,"x":35.88,"y":10},{"run":18,"x":36.4,"y":14},{"run":18,"x":36.92,"y":12},{"run":18,"x":37.44,"y":13},{"run":18,"x":37.96,"y":11}
      ]},
      "mark": {"type": "circle", "size": 24, "opacity": 1},
      "encoding": {
        "x": {"field": "x", "type": "quantitative", "scale": {"domain": [0, 40], "nice": false, "zero": false},
              "axis": {"orient": "bottom", "values": [0, 5, 10, 15, 20, 25, 30, 35, 40], "grid": true, "labelPadding": 27, "titlePadding": 8, "title": "Distance from Approach Start[m]"}},
        "y": {"field": "y", "type": "quantitative", "scale": {"domain": [-400, 500], "nice": false, "zero": false},
              "axis": {"orient": "left", "values": [-400, -300, -200, -100, 0, 100, 200, 300, 400, 500], "grid": true, "labelPadding": 20, "title": null}},
        "color": {"field": "run", "type": "nominal", "legend": null,
                  "scale": {"domain": [1,2,3,4,5,6,7,8,9,10,11,12,13,14,15,16,17,18],
                            "range": ["#0072BD","#D95319","#EDB120","#7E2F8E","#77AC30","#4DBEEE","#A2142F","#0072BD","#D95319","#EDB120","#7E2F8E","#77AC30","#4DBEEE","#A2142F","#0072BD","#D95319","#EDB120","#7E2F8E"]}}
      }
    },
    {
      "data": {"values": [{"x": 0, "y": 0}]},
      "mark": {"type": "point", "opacity": 0},
      "encoding": {
        "x": {"field": "x", "type": "quantitative", "axis": {"orient": "top", "values": [0, 5, 10, 15, 20, 25, 30, 35, 40], "labels": false, "title": null, "grid": false, "domain": false}},
        "y": {"field": "y", "type": "quantitative", "axis": {"orient": "right", "values": [-400, -300, -200, -100, 0, 100, 200, 300, 400, 500], "labels": false, "title": null, "grid": false, "domain": false}}
      }
    },
    {
      "data": {"values": [{"x": 26, "x2": 40, "y": 0}]},
      "mark": {"type": "rule", "color": "#FF0000", "strokeWidth": 4},
      "encoding": {
        "x": {"field": "x", "type": "quantitative", "axis": null},
        "x2": {"field": "x2"},
        "y": {"field": "y", "type": "quantitative", "axis": null}
      }
    },
    {
      "data": {"values": [{"x": 2.9, "y": 392, "y2": 172}, {"x": 34.98, "y": 202, "y2": 147}, {"x": 34.98, "y": 50, "y2": -41}]},
      "mark": {"type": "rule", "color": "#000000", "strokeWidth": 3},
      "encoding": {
        "x": {"field": "x", "type": "quantitative", "axis": null},
        "y": {"field": "y", "type": "quantitative", "axis": null},
        "y2": {"field": "y2"}
      }
    },
    {
      "data": {"values": [
        {"x": 2.9, "y": 389, "dir": "up"}, {"x": 2.9, "y": 175, "dir": "down"},
        {"x": 34.98, "y": 199, "dir": "up"}, {"x": 34.98, "y": 150, "dir": "down"},
        {"x": 34.98, "y": 47, "dir": "up"}, {"x": 34.98, "y": -38, "dir": "down"}
      ]},
      "mark": {"type": "point", "filled": true, "color": "#000000", "size": 225, "opacity": 1},
      "encoding": {
        "x": {"field": "x", "type": "quantitative", "axis": null},
        "y": {"field": "y", "type": "quantitative", "axis": null},
        "shape": {"field": "dir", "type": "nominal", "legend": null,
                  "scale": {"domain": ["up", "down"], "range": ["M0,-1L1,1L-1,1Z", "M0,1L1,-1L-1,-1Z"]}}
      }
    },
    {
      "data": {"values": [{"x": 37.78, "y": 401.5}]},
      "mark": {"type": "point", "shape": "M-0.367,1L0.367,1L0.367,-0.22L0.714,-0.22L0,-1L-0.714,-0.22L-0.367,-0.22Z", "size": 2401, "filled": true, "fill": "#5B9BD5", "stroke": "#41719C", "strokeWidth": 1, "opacity": 1},
      "encoding": {
        "x": {"field": "x", "type": "quantitative", "axis": null},
        "y": {"field": "y", "type": "quantitative", "axis": null}
      }
    },
    {
      "data": {"values": [{"x": 20, "y": 527.8, "label": "Position (from MM-sensor)"}]},
      "mark": {"type": "text", "font": "DejaVu Sans", "fontSize": 27, "color": "#111111", "align": "center", "baseline": "middle"},
      "encoding": {
        "x": {"field": "x", "type": "quantitative", "axis": null},
        "y": {"field": "y", "type": "quantitative", "axis": null},
        "text": {"field": "label"}
      }
    },
    {
      "data": {"values": [
        {"x": 6.97, "y": 432.6, "label": "約±100mm"},
        {"x": 35.07, "y": -104, "label": "約±50mm"},
        {"x": 34.63, "y": -165.6, "label": "（±5cm）"}
      ]},
      "mark": {"type": "text", "font": "Noto Sans CJK JP", "fontSize": 36, "color": "#000000", "align": "center", "baseline": "middle"},
      "encoding": {
        "x": {"field": "x", "type": "quantitative", "axis": null},
        "y": {"field": "y", "type": "quantitative", "axis": null},
        "text": {"field": "label"}
      }
    },
    {
      "data": {"values": [{"x": 31.92, "y": 388.6, "label": "縁石接近側"}]},
      "mark": {"type": "text", "font": "Noto Sans CJK JP", "fontSize": 37.5, "color": "#000000", "align": "center", "baseline": "middle"},
      "encoding": {
        "x": {"field": "x", "type": "quantitative", "axis": null},
        "y": {"field": "y", "type": "quantitative", "axis": null},
        "text": {"field": "label"}
      }
    },
    {
      "data": {"values": [
        {"x": 37.52, "y": -300.2, "label": "停止"},
        {"x": 37.52, "y": -363.3, "label": "位置"}
      ]},
      "mark": {"type": "text", "font": "Noto Sans CJK JP", "fontSize": 38, "fontWeight": "bold", "color": "#000000", "align": "center", "baseline": "middle"},
      "encoding": {
        "x": {"field": "x", "type": "quantitative", "axis": null},
        "y": {"field": "y", "type": "quantitative", "axis": null},
        "text": {"field": "label"}
      }
    },
    {
      "data": {"values": [{"x": 39.55, "y": -16, "label": "（目標）"}]},
      "mark": {"type": "text", "font": "Noto Sans CJK JP", "fontSize": 28, "fontWeight": "bold", "color": "#FF0000", "align": "left", "baseline": "middle"},
      "encoding": {
        "x": {"field": "x", "type": "quantitative", "axis": null},
        "y": {"field": "y", "type": "quantitative", "axis": null},
        "text": {"field": "label"}
      }
    },
    {
      "data": {"values": [{"x": 19.4, "y": -552.6, "label": "RearAxle側（18回分）"}]},
      "mark": {"type": "text", "font": "Noto Sans CJK JP", "fontSize": 32, "color": "#000000", "align": "center", "baseline": "middle"},
      "encoding": {
        "x": {"field": "x", "type": "quantitative", "axis": null},
        "y": {"field": "y", "type": "quantitative", "axis": null},
        "text": {"field": "label"}
      }
    },
    {
      "data": {"values": [{"x": 10.89, "x2": 27.92, "y": -576}]},
      "mark": {"type": "rule", "color": "#000000", "strokeWidth": 2},
      "encoding": {
        "x": {"field": "x", "type": "quantitative", "axis": null},
        "x2": {"field": "x2"},
        "y": {"field": "y", "type": "quantitative", "axis": null}
      }
    }
  ]
}
